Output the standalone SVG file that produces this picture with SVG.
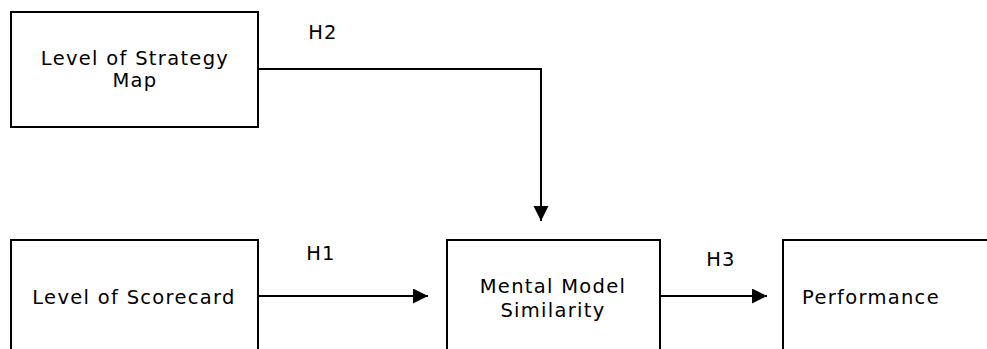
<svg xmlns="http://www.w3.org/2000/svg" width="987" height="349" viewBox="0 0 987 349">
<style>
.box{fill:#fff;stroke:#000;stroke-width:2}
.t{font-family:"DejaVu Sans",Verdana,sans-serif;font-size:19.5px;letter-spacing:1.3px;fill:#000;text-anchor:middle}
.c{fill:none;stroke:#000;stroke-width:2}
</style>
<defs>
<marker id="ah" markerWidth="16" markerHeight="16" refX="15" refY="7.5" orient="auto" markerUnits="userSpaceOnUse">
<path d="M0,0 L15,7.5 L0,15 Z" fill="#000"/>
</marker>
</defs>
<g id="strategy">
<rect class="box" x="11" y="12" width="247" height="115"/>
<text class="t" x="135" y="65">Level of Strategy</text>
<text class="t" x="135" y="87">Map</text>
</g>
<g id="scorecard">
<rect class="box" x="11" y="240" width="247" height="130"/>
<text class="t" x="134" y="304">Level of Scorecard</text>
</g>
<g id="mental">
<rect class="box" x="447" y="240" width="213" height="130"/>
<text class="t" x="553" y="293">Mental Model</text>
<text class="t" x="553" y="317">Similarity</text>
</g>
<g id="performance">
<rect class="box" x="783" y="240" width="230" height="130"/>
<text class="t" x="871" y="304">Performance</text>
</g>
<g id="connectors">
<path class="c" d="M257,69 H541 V221" marker-end="url(#ah)"/>
<path class="c" d="M257,296 H428" marker-end="url(#ah)"/>
<path class="c" d="M659,296 H767" marker-end="url(#ah)"/>
<text class="t" x="323" y="39">H2</text>
<text class="t" x="321" y="260">H1</text>
<text class="t" x="721" y="266">H3</text>
</g>
</svg>
